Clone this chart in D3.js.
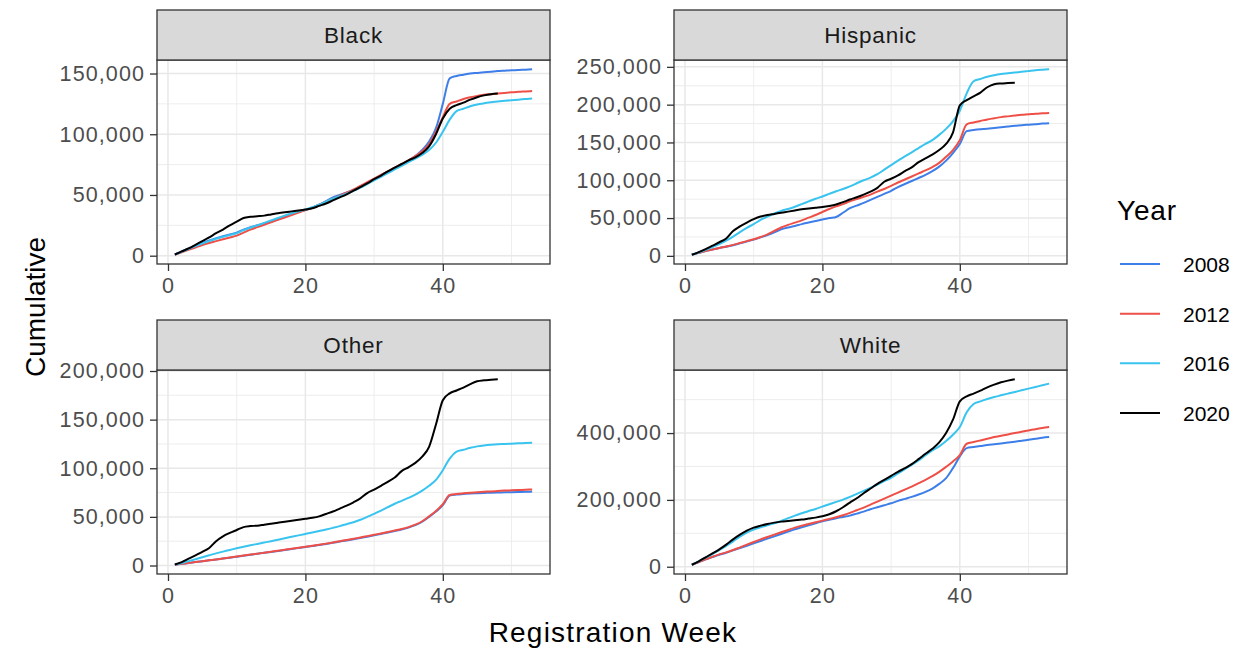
<!DOCTYPE html>
<html>
<head>
<meta charset="utf-8">
<script src="https://cdn.jsdelivr.net/npm/d3@7"></script>
<style>
  html, body { margin: 0; padding: 0; background: #fff; }
  svg { display: block; font-family: "Liberation Sans", Arial, Helvetica, sans-serif; }
</style>
</head>
<body>
<svg id="chart" width="1249" height="652"></svg>
<script>
// Cumulative voter registrations by week, one facet per group, one line per election year
const groups = ["Black", "Hispanic", "Other", "White"];
const years = ["2008", "2012", "2016", "2020"];
const yearColors = ["#3d7ee8", "#ee4f47", "#38c4ef", "#000000"];

// Black
const black2008 = [1000,3500,6000,8500,10500,12500,14500,16000,17500,19000,21500,23500,25000,26500,28000,30000,32500,34500,36000,37500,39500,42000,45000,48000,50000,52000,54000,57000,60000,63000,66000,69000,72000,75000,78000,82000,87000,94000,105000,125000,146000,148000,149000,150000,150500,151000,151500,152000,152300,152600,153000,153200,153500];
const black2012 = [800,2800,4800,6800,8800,10500,12000,13500,15000,16500,19000,21500,23500,25500,27500,29500,31500,33500,35500,37500,39500,42000,44500,47000,49500,52000,54500,57500,60500,63500,66500,69500,72500,75500,78500,82000,86000,92000,102000,114000,125000,127000,129000,130500,131500,132500,133000,133500,134000,134500,135000,135300,135600];
const black2016 = [900,3200,5500,8000,10000,12000,14000,15500,17000,18500,21000,23000,25000,27000,29000,31000,33000,35000,36500,38000,40000,42000,44500,47000,49000,51000,53500,56000,59000,62000,65000,68000,71000,74000,77000,80000,83000,87000,93000,102000,112000,119000,121000,123000,124500,125500,126300,127000,127500,128000,128500,129000,129500];
const black2020 = [1000,3500,6000,9000,12000,15000,18500,21500,25000,28000,31000,32000,32500,33000,34000,35000,35800,36500,37200,38000,39000,41000,43000,45500,48000,50500,53500,56500,59500,63000,66000,69500,72500,75500,78500,81000,84500,90000,100000,113000,121000,124000,126000,128500,130500,132000,133000,133500];

// Hispanic
const hispanic2008 = [1500,4000,6500,8500,10500,12000,14000,16500,19000,21500,24500,27500,31000,35000,37500,39500,42000,44000,46000,48000,50000,51500,57000,63000,66500,70000,74000,78000,82000,86000,91000,95000,99000,103000,107000,112000,118000,126000,136000,148000,165000,166500,167500,168000,169000,170000,171000,172000,172800,173500,174200,175000,175500];
const hispanic2012 = [1500,4000,6500,8500,10500,12500,14500,17000,19500,22000,25000,28500,33000,37500,41000,44000,47000,50500,54000,58000,62000,65500,68500,72000,75000,78000,81000,85000,88500,92500,97000,101000,105000,109000,113000,117500,123000,131000,140000,153000,174000,176500,178500,180500,182000,183500,184500,185500,186500,187200,188000,188500,189000];
const hispanic2016 = [1500,4500,8000,11500,15500,20000,25500,31500,37000,42000,47500,52000,56000,59500,62000,65000,68500,72000,75500,78500,82000,85500,88500,92000,96000,100000,103500,108000,114000,120000,126000,131500,137000,142500,148000,153000,160000,168000,178000,192000,215000,231000,234000,237000,239000,240500,241500,242500,243500,244500,245500,246200,246800];
const hispanic2020 = [1500,5000,9000,13500,18000,23000,33000,39000,44000,48500,52000,54000,55500,57000,58500,60000,61500,62500,63500,64500,66000,68000,71000,74500,77500,81000,85000,90000,98000,102000,106500,112000,117000,124000,129000,134000,140000,148000,163000,199000,206000,211000,216000,223000,227000,228000,228500,229000];

// Other
const other2008 = [800,1700,2600,3500,4400,5300,6200,7100,8000,9000,10000,11000,12000,13000,14000,15000,16000,17000,18000,19000,20000,21000,22200,23400,24600,25800,27000,28300,29600,31000,32500,34000,35500,37000,39000,41500,45000,50000,55500,62000,72000,73000,73500,74000,74300,74600,74800,75000,75200,75400,75600,75800,76000];
const other2012 = [800,1700,2600,3500,4400,5300,6200,7200,8200,9200,10200,11200,12200,13200,14200,15200,16200,17200,18200,19200,20200,21300,22500,23700,25000,26200,27500,28800,30200,31600,33000,34500,36000,37500,39500,42000,45500,50500,56000,63000,72500,73500,74200,74800,75300,75800,76200,76600,77000,77300,77600,77900,78200];
const other2016 = [1000,2500,4500,6500,8500,10500,12500,14300,16000,17700,19300,20800,22200,23600,25000,26500,28000,29500,31000,32500,34000,35500,37000,38700,40500,42500,44500,47000,50000,53000,56500,60000,63500,66500,69500,73000,77000,82000,88000,98000,110000,117000,119000,121000,122500,123500,124200,124700,125000,125300,125600,125900,126200];
const other2020 = [1000,3500,7000,10500,14000,18000,25000,30000,33500,36500,39500,40500,41000,42000,43000,44000,45000,46000,47000,48000,49000,50500,53000,55500,58500,61500,65000,69000,74500,78000,82000,86000,90500,97000,101000,105500,112000,122000,145000,170000,177000,180000,183000,186500,189500,190500,191000,191500];

// White
const white2008 = [6000,14000,22000,29000,36000,42000,49000,56000,63000,70000,77000,84000,91000,98000,105000,112000,118000,124000,130000,136000,140500,145000,149000,153000,159000,165000,172000,178000,184000,190000,197000,203000,209000,216000,224000,234000,248000,265000,295000,330000,355000,358000,361000,364000,366500,369000,371500,374000,377000,380000,383000,386000,388000];
const white2012 = [6000,14000,22000,30000,37000,43000,50000,58000,66000,74000,82000,89000,96000,103000,110000,117000,123000,128000,133000,138000,143000,148000,154000,161000,169000,177000,186000,195000,204000,213000,222000,231000,240000,250000,260000,271000,284000,299000,315000,334000,368000,373000,378000,383000,388000,392000,396000,400000,404000,408000,411500,415000,418000];
const white2016 = [6000,16000,27000,38000,50000,62000,76000,90000,102000,111000,118000,124000,130000,137000,145000,153000,160000,167000,173000,180000,187000,194000,201000,209000,218000,227000,236000,246000,256000,266000,279000,292000,305000,318000,334000,348000,360000,376000,395000,418000,462000,487000,495000,502000,508000,513000,518000,523000,528000,533000,538000,543000,548000];
const white2020 = [6000,16000,28000,40000,52000,66000,82000,96000,108000,117000,123000,128000,132000,135000,137000,139000,141000,144000,147000,151000,157000,166000,178000,192000,205000,220000,234000,248000,260000,272000,284000,295000,307000,322000,338000,353000,372000,400000,440000,495000,510000,518000,527000,537000,545000,552000,557000,561000];

// Axis breaks
const xTicks = [0, 20, 40];
const xMinor = [10, 30, 50];
const blackTicks = [0, 50000, 100000, 150000];
const hispanicTicks = [0, 50000, 100000, 150000, 200000, 250000];
const otherTicks = [0, 50000, 100000, 150000, 200000];
const whiteTicks = [0, 200000, 400000];

const panels = [
  { name: groups[0], series: [black2008, black2012, black2016, black2020], ticks: blackTicks },
  { name: groups[1], series: [hispanic2008, hispanic2012, hispanic2016, hispanic2020], ticks: hispanicTicks },
  { name: groups[2], series: [other2008, other2012, other2016, other2020], ticks: otherTicks },
  { name: groups[3], series: [white2008, white2012, white2016, white2020], ticks: whiteTicks }
];

// Facet grid geometry
const colX = [157, 674];
const panelW = 393;
const rowTop = [10, 320];
const stripH = 50;
const panelH = 204;
const tickLen = 7;

const svg = d3.select("#chart");
const fmt = d3.format(",");
const gridColor = "#e8e8e8";
const borderColor = "#333333";
const tickTextColor = "#4d4d4d";

panels.forEach((p, i) => {
  const left = colX[i % 2];
  const top = rowTop[Math.floor(i / 2)];
  const pTop = top + stripH;
  const g = svg.append("g");

  // Scales with 5% padding on both sides of the data range
  const nWeeks = d3.max(p.series, s => s.length);
  const xExt = [1, nWeeks];
  const xPad = (xExt[1] - xExt[0]) * 0.05;
  const x = d3.scaleLinear().domain([xExt[0] - xPad, xExt[1] + xPad]).range([left, left + panelW]);
  const allVals = p.series.flat();
  const yExt = d3.extent(allVals);
  const yPad = (yExt[1] - yExt[0]) * 0.05;
  const y = d3.scaleLinear().domain([yExt[0] - yPad, yExt[1] + yPad]).range([pTop + panelH, pTop]);

  // Panel background and grid
  g.append("rect").attr("x", left).attr("y", pTop).attr("width", panelW).attr("height", panelH).attr("fill", "#fff");
  const [d0, d1] = y.domain();
  const step = p.ticks[1] - p.ticks[0];
  const yMinor = d3.range(p.ticks[0] - step / 2, d1, step).filter(v => v > d0 && v < d1);
  g.selectAll(".ymin").data(yMinor).join("line")
    .attr("x1", left).attr("x2", left + panelW)
    .attr("y1", d => y(d)).attr("y2", d => y(d))
    .attr("stroke", gridColor).attr("stroke-width", 0.8);
  g.selectAll(".xmin").data(xMinor).join("line")
    .attr("x1", d => x(d)).attr("x2", d => x(d))
    .attr("y1", pTop).attr("y2", pTop + panelH)
    .attr("stroke", gridColor).attr("stroke-width", 0.8);
  g.selectAll(".ymaj").data(p.ticks).join("line")
    .attr("x1", left).attr("x2", left + panelW)
    .attr("y1", d => y(d)).attr("y2", d => y(d))
    .attr("stroke", gridColor).attr("stroke-width", 1.5);
  g.selectAll(".xmaj").data(xTicks).join("line")
    .attr("x1", d => x(d)).attr("x2", d => x(d))
    .attr("y1", pTop).attr("y2", pTop + panelH)
    .attr("stroke", gridColor).attr("stroke-width", 1.5);

  // Lines
  const line = d3.line().x((d, k) => x(k + 1)).y(d => y(d)).curve(d3.curveMonotoneX);
  p.series.forEach((s, k) => {
    g.append("path").datum(s)
      .attr("d", line)
      .attr("fill", "none")
      .attr("stroke", yearColors[k])
      .attr("stroke-width", 2)
      .attr("stroke-linejoin", "round");
  });

  // Panel border
  g.append("rect").attr("x", left).attr("y", pTop).attr("width", panelW).attr("height", panelH)
    .attr("fill", "none").attr("stroke", borderColor).attr("stroke-width", 1.3);

  // Strip
  g.append("rect").attr("x", left).attr("y", top).attr("width", panelW).attr("height", stripH)
    .attr("fill", "#d9d9d9").attr("stroke", borderColor).attr("stroke-width", 1.3);
  g.append("text").attr("x", left + panelW / 2).attr("y", top + stripH / 2 + 8)
    .attr("text-anchor", "middle").attr("font-size", 22.5).attr("fill", "#1a1a1a")
    .attr("letter-spacing", 0.8)
    .text(p.name);

  // Axes
  const yAxis = d3.axisLeft(y).tickValues(p.ticks).tickFormat(fmt).tickSize(tickLen).tickPadding(5);
  const ya = g.append("g").attr("transform", `translate(${left},0)`).call(yAxis);
  const xAxis = d3.axisBottom(x).tickValues(xTicks).tickSize(tickLen).tickPadding(7);
  const xa = g.append("g").attr("transform", `translate(0,${pTop + panelH})`).call(xAxis);
  [ya, xa].forEach(a => {
    a.select(".domain").remove();
    a.selectAll(".tick line").attr("stroke", borderColor).attr("stroke-width", 1.3);
    a.selectAll(".tick text").attr("fill", tickTextColor).attr("font-size", 21.5)
      .attr("font-family", "Liberation Sans, Arial, sans-serif").attr("letter-spacing", 1.1);
  });
});

// Axis titles
svg.append("text").attr("x", 613).attr("y", 642).attr("text-anchor", "middle")
  .attr("font-size", 28).attr("fill", "#000").attr("letter-spacing", 1.2).text("Registration Week");
svg.append("text").attr("transform", "translate(45,307) rotate(-90)").attr("text-anchor", "middle")
  .attr("font-size", 28).attr("fill", "#000").text("Cumulative");

// Legend
const legend = svg.append("g");
legend.append("text").attr("x", 1117).attr("y", 220).attr("font-size", 28).attr("fill", "#000")
  .attr("letter-spacing", 0.8).text("Year");
const legY = d3.scalePoint().domain(years).range([264, 413]);
years.forEach((yr, k) => {
  legend.append("line").attr("x1", 1120).attr("x2", 1160)
    .attr("y1", legY(yr)).attr("y2", legY(yr))
    .attr("stroke", yearColors[k]).attr("stroke-width", 2);
  legend.append("text").attr("x", 1183).attr("y", legY(yr) + 8)
    .attr("font-size", 21).attr("fill", "#000").text(yr);
});
</script>
</body>
</html>
